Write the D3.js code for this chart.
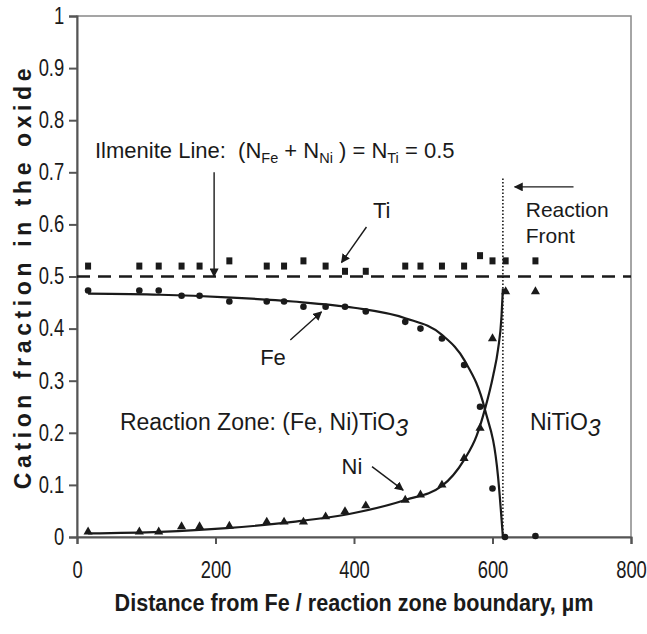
<!DOCTYPE html>
<html>
<head>
<meta charset="utf-8">
<script src="https://cdn.jsdelivr.net/npm/d3@7/dist/d3.min.js"></script>
<style>
    body { margin: 0; background: #fff; }
    svg text { font-family: "Liberation Sans", Arial, sans-serif; fill: #1a1a1a; white-space: pre; }
</style>
</head>
<body>
<svg id="chart" width="647" height="634"></svg>
<script>
// axis ticks
const xTicks = [0, 200, 400, 600, 800]
const yTicks = [0, 0.1, 0.2, 0.3, 0.4, 0.5, 0.6, 0.7, 0.8, 0.9, 1]

// measured points
const tiX = [16, 90, 118, 151, 177, 220, 274, 299, 327, 359, 387, 417, 474, 496, 527, 559, 582, 600, 619, 662]
const tiY = [0.52, 0.52, 0.52, 0.52, 0.52, 0.53, 0.52, 0.52, 0.53, 0.52, 0.51, 0.51, 0.52, 0.52, 0.52, 0.52, 0.54, 0.53, 0.53, 0.53]

const feX = [16, 90, 118, 151, 177, 220, 274, 299, 327, 359, 387, 417, 474, 496, 527, 559, 582, 600, 618, 662]
const feY = [0.473, 0.473, 0.473, 0.463, 0.463, 0.452, 0.452, 0.452, 0.442, 0.442, 0.442, 0.433, 0.413, 0.400, 0.381, 0.330, 0.250, 0.093, 0.0, 0.002]

const niX = [16, 90, 118, 151, 177, 220, 274, 299, 327, 359, 387, 417, 474, 496, 527, 559, 582, 600, 619, 662]
const niY = [0.010, 0.010, 0.010, 0.020, 0.020, 0.021, 0.029, 0.029, 0.029, 0.039, 0.049, 0.060, 0.071, 0.081, 0.100, 0.151, 0.209, 0.381, 0.471, 0.471]

// fitted curves
const feFitX = [16, 120, 216, 312, 400, 474, 527, 560, 589, 608, 615]
const feFitY = [0.467, 0.465, 0.460, 0.452, 0.440, 0.420, 0.388, 0.338, 0.245, 0.116, 0.0]
const niFitX = [16, 120, 216, 312, 400, 474, 527, 559, 577, 589, 601, 608, 613, 615]
const niFitY = [0.007, 0.010, 0.017, 0.029, 0.046, 0.071, 0.098, 0.148, 0.194, 0.245, 0.31, 0.36, 0.423, 0.477]

const ilmeniteLevel = 0.5
const reactionFront = 615

const NARROW = 'scale(0.8,1)'   // the original uses a condensed face

const margin = {left: 77, right: 16, top: 16, bottom: 97}
const width = 647, height = 634

const svg = d3.select('#chart')
const x = d3.scaleLinear().domain([0, 800]).range([margin.left, width - margin.right])
const y = d3.scaleLinear().domain([0, 1]).range([height - margin.bottom, margin.top])

// arrow head
svg.append('defs').append('marker')
    .attr('id', 'head')
    .attr('viewBox', '0 0 10 10')
    .attr('refX', 9).attr('refY', 5)
    .attr('markerWidth', 9).attr('markerHeight', 9)
    .attr('markerUnits', 'userSpaceOnUse')
    .attr('orient', 'auto')
    .append('path').attr('d', 'M0,0L10,5L0,10z').attr('fill', '#1a1a1a')

// frame
svg.append('rect')
    .attr('x', x(0)).attr('y', y(1))
    .attr('width', x(800) - x(0)).attr('height', y(0) - y(1))
    .attr('fill', 'none').attr('stroke', '#888').attr('stroke-width', 1.5)

const xAxis = svg.append('g')
    .attr('transform', `translate(0,${y(0)})`)
    .call(d3.axisBottom(x).tickValues(xTicks).tickSize(7).tickPadding(18))
xAxis.selectAll('text').style('font-size', '23px').attr('fill', '#1a1a1a').attr('transform', NARROW)

const yAxis = svg.append('g')
    .attr('transform', `translate(${x(0)},0)`)
    .call(d3.axisLeft(y).tickValues(yTicks).tickSize(8).tickPadding(8)
        .tickFormat(d => String(+d.toFixed(1))))
yAxis.selectAll('text').style('font-size', '23px').attr('fill', '#1a1a1a').attr('transform', NARROW)

svg.selectAll('.domain, .tick line').attr('stroke', '#555').attr('stroke-width', 2)

// axis titles
svg.append('g')
    .attr('transform', `translate(${(x(0) + x(800)) / 2},611) scale(0.9,1)`)
    .append('text')
    .attr('text-anchor', 'middle')
    .style('font-size', '24px').style('font-weight', 'bold')
    .text('Distance from Fe / reaction zone boundary, \u00b5m')

svg.append('text')
    .attr('transform', `translate(31,${(y(0) + y(1)) / 2}) rotate(-90)`)
    .attr('text-anchor', 'middle')
    .style('font-size', '23px').style('font-weight', 'bold').style('letter-spacing', '4.6px')
    .text('Cation fraction in the oxide')

// ilmenite line and reaction front
svg.append('line')
    .attr('x1', x(0)).attr('x2', x(800))
    .attr('y1', y(ilmeniteLevel)).attr('y2', y(ilmeniteLevel))
    .attr('stroke', '#1a1a1a').attr('stroke-width', 2.5).attr('stroke-dasharray', '13,8')

svg.append('line')
    .attr('x1', x(reactionFront)).attr('x2', x(reactionFront))
    .attr('y1', y(0)).attr('y2', y(0.69))
    .attr('stroke', '#1a1a1a').attr('stroke-width', 1.6).attr('stroke-dasharray', '1.5,2')

// fitted curves
const line = d3.line().x(d => x(d[0])).y(d => y(d[1])).curve(d3.curveMonotoneX)
svg.append('path').datum(d3.zip(feFitX, feFitY))
    .attr('d', line).attr('fill', 'none').attr('stroke', '#1a1a1a').attr('stroke-width', 2.2)
svg.append('path').datum(d3.zip(niFitX, niFitY))
    .attr('d', line).attr('fill', 'none').attr('stroke', '#1a1a1a').attr('stroke-width', 2.2)

// markers
svg.append('g').selectAll('rect').data(d3.zip(tiX, tiY)).enter().append('rect')
    .attr('x', d => x(d[0]) - 3).attr('y', d => y(d[1]) - 3.5)
    .attr('width', 6).attr('height', 7).attr('fill', '#1a1a1a')
svg.append('g').selectAll('circle').data(d3.zip(feX, feY)).enter().append('circle')
    .attr('cx', d => x(d[0])).attr('cy', d => y(d[1])).attr('r', 3.3).attr('fill', '#1a1a1a')
svg.append('g').selectAll('path').data(d3.zip(niX, niY)).enter().append('path')
    .attr('d', d3.symbol(d3.symbolTriangle, 36))
    .attr('transform', d => `translate(${x(d[0])},${y(d[1])})`).attr('fill', '#1a1a1a')

// annotations
function arrow(x1, y1, x2, y2) {
    svg.append('line')
        .attr('x1', x(x1)).attr('y1', y(y1)).attr('x2', x(x2)).attr('y2', y(y2))
        .attr('stroke', '#1a1a1a').attr('stroke-width', 1.4).attr('marker-end', 'url(#head)')
}

function label(text, xv, yv, size, anchor = 'start') {
    return svg.append('text').attr('x', x(xv)).attr('y', y(yv))
        .attr('text-anchor', anchor).style('font-size', size + 'px').text(text)
}

const ilm = svg.append('text').attr('x', x(26)).attr('y', y(0.728)).style('font-size', '22px')
ilm.append('tspan').text('Ilmenite Line:  (N')
ilm.append('tspan').attr('dy', 5).style('font-size', '14.5px').text('Fe')
ilm.append('tspan').attr('dy', -5).text(' + N')
ilm.append('tspan').attr('dy', 5).style('font-size', '14.5px').text('Ni')
ilm.append('tspan').attr('dy', -5).text(' ) = N')
ilm.append('tspan').attr('dy', 5).style('font-size', '14.5px').text('Ti')
ilm.append('tspan').attr('dy', -5).text(' = 0.5')
arrow(198, 0.70, 198, 0.5)

label('Ti', 440, 0.612, 22, 'middle')
arrow(418, 0.595, 382, 0.527)

label('Fe', 283, 0.33, 22, 'middle')
arrow(308, 0.378, 353, 0.432)

label('Ni', 397, 0.121, 22, 'middle')
arrow(426, 0.135, 471, 0.090)

arrow(717, 0.672, 632, 0.672)
label('Reaction', 648, 0.615, 21)
label('Front', 648, 0.565, 21)

const rz = label('Reaction Zone: (Fe, Ni)TiO', 62, 0.205, 23)
rz.append('tspan').attr('dy', 6).style('font-style', 'italic').text('3')
const nt = label('NiTiO', 654, 0.205, 23)
nt.append('tspan').attr('dy', 6).style('font-style', 'italic').text('3')
</script>
</body>
</html>
